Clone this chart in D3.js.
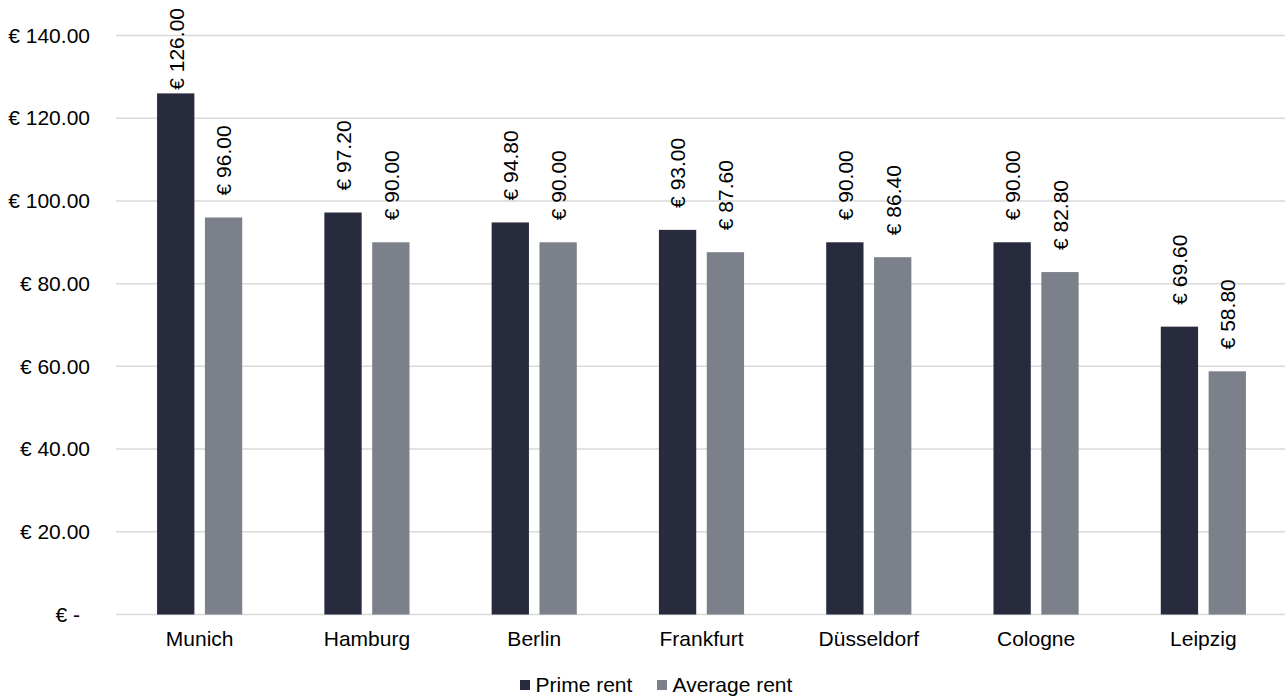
<!DOCTYPE html>
<html>
<head>
<meta charset="utf-8">
<script src="https://cdn.jsdelivr.net/npm/d3@7"></script>
<style>
  html, body { margin: 0; padding: 0; background: #ffffff; }
  svg { display: block; font-family: "Liberation Sans", Arial, sans-serif; }
</style>
</head>
<body>
<svg id="chart" width="1285" height="697"></svg>
<script>
// Office rents per city (€ per m² per year)
const cities = ["Munich", "Hamburg", "Berlin", "Frankfurt", "Düsseldorf", "Cologne", "Leipzig"];
const primeRent = [126.0, 97.2, 94.8, 93.0, 90.0, 90.0, 69.6];
const averageRent = [96.0, 90.0, 90.0, 87.6, 86.4, 82.8, 58.8];
const seriesNames = ["Prime rent", "Average rent"];
const seriesColors = ["#272b3d", "#7b808b"];
const yTicks = [0, 20, 40, 60, 80, 100, 120, 140];

const svg = d3.select("#chart");
const plot = { left: 116, right: 1287, top: 35.5, bottom: 614.5 };

const x = d3.scaleBand().domain(cities).range([plot.left, plot.right]).paddingInner(0).paddingOuter(0);
const y = d3.scaleLinear().domain([0, 140]).range([plot.bottom, plot.top]);

const step = x.bandwidth();
const barW = step * 0.223;
const barGap = step * 0.063;
const groupW = barW * 2 + barGap;

// horizontal gridlines
svg.append("g")
  .selectAll("line")
  .data(yTicks)
  .join("line")
  .attr("x1", plot.left)
  .attr("x2", plot.right)
  .attr("y1", d => y(d))
  .attr("y2", d => y(d))
  .attr("stroke", "#d9d9d9")
  .attr("stroke-width", 1.5);

// y axis labels (accounting-style euro format)
const fmt = d => d === 0 ? "€ -" : "€ " + d3.format(".2f")(d);
const yAxis = svg.append("g")
  .attr("transform", `translate(90,0)`)
  .call(d3.axisLeft(y).tickValues(yTicks).tickFormat(fmt).tickSize(0).tickPadding(0));
yAxis.select(".domain").remove();
yAxis.selectAll("text")
  .attr("font-size", 21)
  .attr("fill", "#000")
  .attr("font-family", "Liberation Sans, Arial, sans-serif")
  .attr("dx", d => d === 0 ? -10 : 0);

// x axis category labels
const xAxis = svg.append("g")
  .attr("transform", `translate(0,${plot.bottom})`)
  .call(d3.axisBottom(x).tickSize(0).tickPadding(17));
xAxis.select(".domain").remove();
xAxis.selectAll("text")
  .attr("font-size", 21)
  .attr("fill", "#000")
  .attr("font-family", "Liberation Sans, Arial, sans-serif");

// bars
const rows = cities.map((c, i) => ({ city: c, values: [primeRent[i], averageRent[i]] }));
const groups = svg.append("g")
  .selectAll("g")
  .data(rows)
  .join("g")
  .attr("transform", d => `translate(${x(d.city) + (step - groupW) / 2},0)`);

groups.selectAll("rect")
  .data(d => d.values.map((v, s) => ({ v, s })))
  .join("rect")
  .attr("x", d => d.s * (barW + barGap))
  .attr("width", barW)
  .attr("y", d => y(d.v))
  .attr("height", d => y(0) - y(d.v))
  .attr("fill", d => seriesColors[d.s]);

// rotated value labels above each bar; kept inside the top edge of the chart
const labelGap = 22;
const topLimit = 8;
groups.selectAll("text")
  .data(d => d.values.map((v, s) => ({ v, s })))
  .join("text")
  .attr("text-anchor", "start")
  .attr("dy", "0.35em")
  .attr("font-size", 21)
  .attr("fill", "#000")
  .text(d => "€ " + d3.format(".2f")(d.v))
  .each(function (d) {
    const len = this.getComputedTextLength();
    const base = Math.max(y(d.v) - labelGap, topLimit + len);
    d3.select(this).attr("transform",
      `translate(${d.s * (barW + barGap) + barW / 2 + 0.5},${base}) rotate(-90)`);
  });

// legend
const legendItems = [
  { name: seriesNames[0], color: seriesColors[0], x: 520 },
  { name: seriesNames[1], color: seriesColors[1], x: 657 }
];
const legend = svg.append("g");
legend.selectAll("rect")
  .data(legendItems)
  .join("rect")
  .attr("x", d => d.x)
  .attr("y", 680)
  .attr("width", 10)
  .attr("height", 10)
  .attr("fill", d => d.color);
legend.selectAll("text")
  .data(legendItems)
  .join("text")
  .attr("x", d => d.x + 15.5)
  .attr("y", 692)
  .attr("font-size", 21)
  .attr("fill", "#000")
  .text(d => d.name);
</script>
</body>
</html>
